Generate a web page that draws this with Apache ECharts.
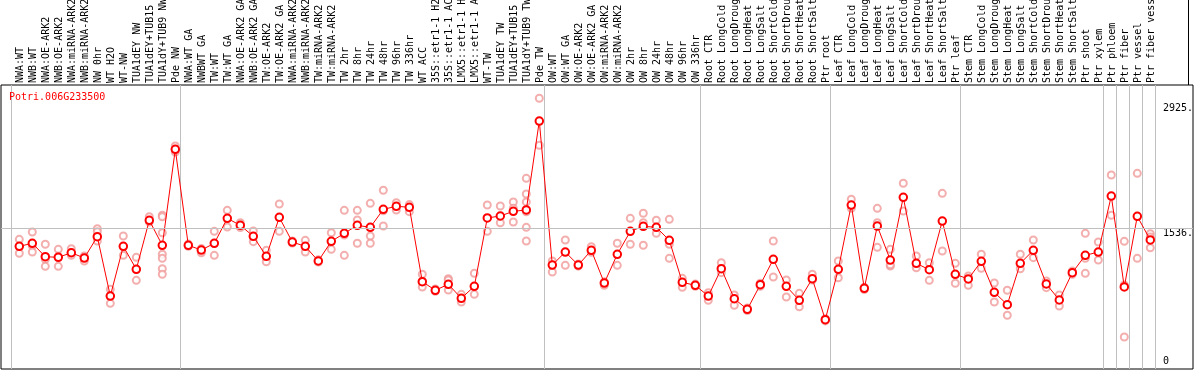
<!DOCTYPE html>
<html>
<head>
<meta charset="utf-8">
<script src="https://cdn.jsdelivr.net/npm/echarts@6/dist/echarts.min.js"></script>
<style>html,body{margin:0;padding:0;background:#fff;}#c{width:1194px;height:370px;}</style>
</head>
<body>
<div id="c"></div>
<script>
const geneName = 'Potri.006G233500';
const categories = [
 'NWA:WT','NWB:WT','NWA:OE-ARK2','NWB:OE-ARK2','NWA:miRNA-ARK2','NWB:miRNA-ARK2','NW 0hr','WT H2O','WT-NW','TUA1dEY NW','TUA1dEY+TUB15 NW','TUA1dY+TUB9 NW','Pde NW',
 'NWA:WT GA','NWBWT GA','TW:WT','TW:WT GA','NWA:OE-ARK2 GA','NWB:OE-ARK2 GA','TW:OE-ARK2','TW:OE-ARK2 GA','NWA:miRNA-ARK2 GA','NWB:miRNA-ARK2 GA','TW:miRNA-ARK2','TW:miRNA-ARK2 GA',
 'TW 2hr','TW 8hr','TW 24hr','TW 48hr','TW 96hr','TW 336hr','WT ACC','35S::etr1-1 H2O','35S::etr1-1 ACC','LMX5::etr1-1 H2O','LMX5::etr1-1 ACC','WT-TW','TUA1dEY TW','TUA1dEY+TUB15 TW','TUA1dY+TUB9 TW','Pde TW',
 'OW:WT','OW:WT GA','OW:OE-ARK2','OW:OE-ARK2 GA','OW:miRNA-ARK2','OW:miRNA-ARK2 GA','OW 2hr','OW 8hr','OW 24hr','OW 48hr','OW 96hr','OW 336hr',
 'Root CTR','Root LongCold','Root LongDrought','Root LongHeat','Root LongSalt','Root ShortCold','Root ShortDrought','Root ShortHeat','Root ShortSalt','Ptr root',
 'Leaf CTR','Leaf LongCold','Leaf LongDrought','Leaf LongHeat','Leaf LongSalt','Leaf ShortCold','Leaf ShortDrought','Leaf ShortHeat','Leaf ShortSalt','Ptr leaf',
 'Stem CTR','Stem LongCold','Stem LongDrought','Stem LongHeat','Stem LongSalt','Stem ShortCold','Stem ShortDrought','Stem ShortHeat','Stem ShortSalt','Ptr shoot','Ptr xylem',
 'Ptr phloem','Ptr fiber','Ptr vessel','Ptr fiber vessel'
];
const means = [
 1335,1369,1220,1213,1264,1205,1443,782,1335,1080,1625,1347,2415,
 1347,1294,1369,1647,1569,1447,1224,1658,1383,
 1335,1172,1391,1480,1569,1547,1747,1781,1770,942,846,913,757,890,1651,1673,1725,1740,2730,
 1127,1272,1127,1291,927,1247,1502,1558,1547,1402,935,901,
 782,1086,752,634,908,1191,890,735,975,519,1080,1795,868,1561,
 1183,1881,1146,1075,1617,1024,972,1169,824,686,1146,1291,916,738,1042,1235,1272,1895,883,1669,1406
];
const replicates = [
 [1413,1335,1258],[1495,1340,1272],[1358,1191,1113],[1302,1224,1113],[1309,1264,1235],[1228,1205,1172],[1532,1498,1395],[857,782,701],[1450,1335,1235],[1213,1080,957],[1665,1606],[1681,1665,1487,1247,1202,1086,1024],[2452,2415,2385],
 [1360,1335],[1310,1264],[1502,1369,1235],[1736,1550],[1598,1569,1545],[1506,1387],[1291,1164],[1806,1502],[1395,1372],
 [1402,1272],[1185,1160],[1487,1302],[1736,1461,1235],[1736,1628,1369],[1814,1450,1369],[1959,1561,1730],[1821,1740],[1800,1721],[1024,883],[860,835],[975,849,960],[801,716],[1035,801],[1795,1502],[1784,1598],[1829,1606,1760],[2092,1918,1830,1720,1547,1395],[2983,2460],
 [1172,1050],[1406,1124],[1140,1115],[1331,1270],[901,940],[1369,1124],[1647,1358],[1703,1598,1347],[1625,1480],[1636,1358,1202],[979,879],[915,890],
 [819,735],[1153,1042],[794,679],[650,620],[925,890],[1395,994],[960,771],[812,663],[1024,960],[530,505],[1172,986],[1859,1758],[880,855],[1758,1598,1324],
 [1302,1116,1130],[2037,1728],[1228,1097],[1153,957],[1925,1283],[1146,924],[1005,901],[1247,1091],[927,716],[846,568],[1247,1086],[1406,1209],[949,875],[794,671],[1060,1025],[1480,1202,1035],[1383,1183],[2129,1681],[1391,905,326],[2148,1202],[1476,1320,1440]
];
const yTickLabels = [1536, 2925];
const yZeroLabel = [0];
const groupStarts = [0,13,41,53,63,73,84,85,86,87];

const repData = [];
replicates.forEach((r, i) => r.forEach(v => repData.push([i, v])));
const meanData = means.map((v, i) => [i, v]);

const MONO = 'DejaVu Sans Mono';
const chart = echarts.init(document.getElementById('c'), null, {renderer: 'canvas'});
const isGroupStart = (idx) => groupStarts.indexOf(idx) >= 0;

chart.setOption({
  animation: false,
  backgroundColor: '#fff',
  title: {
    text: geneName, left: 9, top: 92, padding: 0,
    textStyle: {color: '#ff0000', fontFamily: MONO, fontSize: 10, fontWeight: 'normal'}
  },
  grid: [
    {left: 1, right: 1, top: 85, bottom: 1, show: true, borderColor: '#000', borderWidth: 1, backgroundColor: 'transparent', containLabel: false, outerBoundsMode: 'none'},
    {left: 13.5, width: 1144, top: 85, bottom: 1, containLabel: false, outerBoundsMode: 'none'},
    {left: 11.3, width: 1144, top: 85, bottom: 1, containLabel: false, outerBoundsMode: 'none'}
  ],
  xAxis: [
    {type: 'value', gridIndex: 0, min: -1.4077, max: 90.285, show: false},
    {type: 'category', gridIndex: 1, position: 'top', data: categories, boundaryGap: true,
     axisLine: {show: false}, axisTick: {show: false}, splitLine: {show: false},
     axisLabel: {rotate: 90, interval: 0, margin: 2, fontFamily: MONO, fontSize: 10, color: '#000', hideOverlap: false}},
    {type: 'category', gridIndex: 2, position: 'top', data: categories, boundaryGap: true,
     axisLine: {show: false}, axisLabel: {show: false},
     axisTick: {show: true, inside: false, length: 85, interval: isGroupStart, lineStyle: {color: '#c0c0c0', width: 1}},
     splitLine: {show: true, interval: isGroupStart, lineStyle: {color: '#c0c0c0', width: 1}}}
  ],
  yAxis: [
    {type: 'value', gridIndex: 0, min: -30, max: 3131, position: 'right',
     axisLine: {show: false}, axisTick: {show: false}, splitLine: {show: false},
     axisLabel: {inside: true, customValues: yTickLabels, formatter: v => v + '.', align: 'left', verticalAlign: 'top', margin: 30, fontFamily: MONO, fontSize: 10, color: '#000'}},
    {type: 'value', gridIndex: 0, min: -30, max: 3131, position: 'right',
     axisLine: {show: false}, axisTick: {show: false}, splitLine: {show: false},
     axisLabel: {inside: true, customValues: yZeroLabel, formatter: v => String(v), align: 'left', verticalAlign: 'bottom', margin: 30, fontFamily: MONO, fontSize: 10, color: '#000'}},
    {type: 'value', gridIndex: 1, min: 0, max: 1, show: false},
    {type: 'value', gridIndex: 2, min: 0, max: 1, show: false}
  ],
  series: [
    {type: 'scatter', xAxisIndex: 0, yAxisIndex: 0, data: repData, z: 2,
     symbol: 'emptyCircle', symbolSize: 7,
     itemStyle: {color: '#f09a9a', borderColor: '#f09a9a', borderWidth: 1.2},
     markLine: {silent: true, symbol: 'none', label: {show: false},
       lineStyle: {color: '#c0c0c0', width: 1, type: 'solid'}, data: [{yAxis: 1536}]}},
    {type: 'line', xAxisIndex: 0, yAxisIndex: 0, data: meanData, z: 3,
     symbol: 'emptyCircle', symbolSize: 7.5, showAllSymbol: true,
     lineStyle: {color: '#ff0000', width: 1},
     itemStyle: {color: '#ff0000', borderColor: '#ff0000', borderWidth: 1.7}}
  ],
  graphic: [
    {type: 'line', shape: {x1: 1188.5, y1: 0, x2: 1188.5, y2: 85}, style: {stroke: '#000', lineWidth: 1}, silent: true}
  ]
});
</script>
</body>
</html>
